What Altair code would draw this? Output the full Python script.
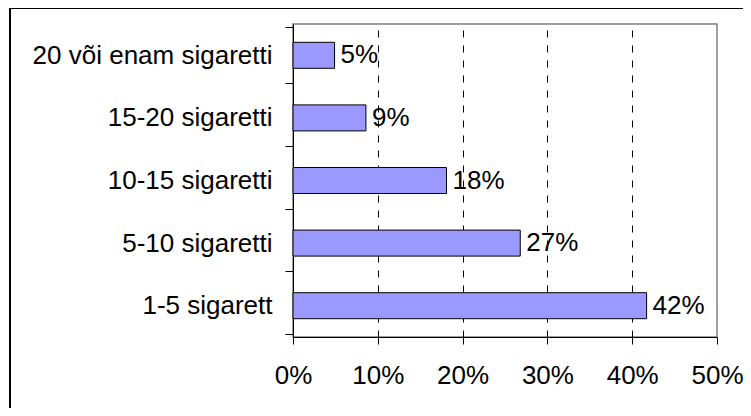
import altair as alt
import pandas as pd

categories = ["20 või enam sigaretti", "15-20 sigaretti", "10-15 sigaretti", "5-10 sigaretti", "1-5 sigarett"]
shares = [0.049, 0.086, 0.181, 0.268, 0.417]
x_ticks = [0.0, 0.1, 0.2, 0.3, 0.4, 0.5]

df = pd.DataFrame({"category": categories, "share": shares})

FONT = "Liberation Sans"
FS = 26

y_enc = alt.Y(
    "category:N",
    sort=categories,
    axis=alt.Axis(
        title=None,
        labelFont=FONT,
        labelFontSize=FS,
        labelColor="black",
        labelPadding=13,
        labelLimit=0,
        tickSize=8,
        tickColor="black",
        tickBand="extent",
        domainColor="black",
        domainWidth=1,
        grid=False,
        zindex=0,
    ),
)

x_enc = alt.X(
    "share:Q",
    scale=alt.Scale(domain=[0, 0.5], nice=False),
    axis=alt.Axis(
        title=None,
        values=x_ticks,
        format=".0%",
        labelFont=FONT,
        labelFontSize=FS,
        labelColor="black",
        labelPadding=18,
        labelFlush=False,
        tickSize=7,
        tickColor="black",
        domainColor="black",
        domainWidth=1,
        grid=True,
        gridColor=alt.condition("datum.value > 0 && datum.value < 0.5", alt.value("black"), alt.value("transparent")),
        gridDash=[7, 8],
        gridWidth=1,
        zindex=0,
    ),
)

frame = alt.Chart(alt.Data(values=[{"f": 1}])).mark_rect(
    filled=False, stroke="black", strokeWidth=2
).encode(
    x=alt.value(-283), x2=alt.value(1000), y=alt.value(-16), y2=alt.value(1000)
)

bars = alt.Chart(df).mark_bar(
    size=26, color="#9999FF", stroke="black", strokeWidth=1
).encode(x=x_enc, y=y_enc)

labels = alt.Chart(df).mark_text(
    align="left", baseline="middle", dx=6, font=FONT, fontSize=FS, color="black"
).encode(
    x=alt.X("share:Q"),
    y=alt.Y("category:N", sort=categories),
    text=alt.Text("share:Q", format=".0%"),
)

chart = alt.layer(frame, bars, labels).properties(
    width=424,
    height=313,
    autosize=alt.AutoSizeParams(type="none"),
    padding={"left": 285, "top": 16, "right": 26, "bottom": 71},
    background="white",
).configure_view(
    stroke="#808080", strokeWidth=1.5
)

chart.save("out.html", embed_options={"renderer": "svg", "actions": False})
